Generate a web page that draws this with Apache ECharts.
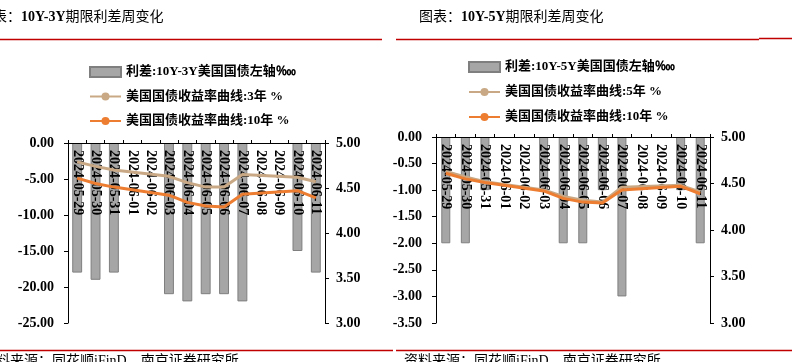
<!DOCTYPE html>
<html><head><meta charset="utf-8">
<script src="https://cdn.jsdelivr.net/npm/echarts@6/dist/echarts.min.js"></script>
<style>html,body{margin:0;padding:0;background:#fff}#c{width:792px;height:362px}</style>
</head><body><div id="c"></div>
<script>
const categories = ['2024-05-29','2024-05-30','2024-05-31','2024-06-01','2024-06-02','2024-06-03','2024-06-04','2024-06-05','2024-06-06','2024-06-07','2024-06-08','2024-06-09','2024-06-10','2024-06-11'];
// left chart (10Y-3Y)
const spread10y3y = [-18,-19,-18,null,null,-21,-22,-21,-21,-22,null,null,-15,-18];
const yield3y     = [4.79,4.74,4.70,null,null,4.63,4.56,4.51,4.51,4.65,null,null,4.62,4.57];
const yield10y    = [4.61,4.55,4.51,null,null,4.42,4.34,4.30,4.29,4.43,null,null,4.47,4.39];
// right chart (10Y-5Y)
const spread10y5y = [-2,-2,-1,null,null,-1,-2,-2,-1,-3,null,null,-1,-2];
const yield5y     = [4.63,4.57,4.52,null,null,4.43,4.36,4.32,4.30,4.46,null,null,4.48,4.41];
const leftTicks  = {min:-25, max:0, interval:5};
const rightTicks = {min:-3.5, max:0, interval:0.5};
const yieldTicks = {min:3, max:5, interval:0.5};

const names = {
  s3: '利差:10Y-3Y美国国债左轴‱',
  y3: '美国国债收益率曲线:3年 %',
  y10: '美国国债收益率曲线:10年 %',
  s5: '利差:10Y-5Y美国国债左轴‱',
  y5: '美国国债收益率曲线:5年 %'
};

const FONT = "'Liberation Serif','Noto Sans CJK SC',serif";
const RED = '#c00000';
const TAN = '#c9a985';
const ORANGE = '#ed7d31';

function xAx(g){
  return {gridIndex:g, type:'category', data:categories, position:'top', boundaryGap:true, z:3,
    axisLine:{onZero:false, lineStyle:{color:'#000', width:1}},
    axisTick:{show:true, inside:false, length:3, lineStyle:{color:'#000'}},
    axisLabel:{inside:true, rotate:90, margin:7, interval:0, fontSize:14, fontWeight:'bold', fontFamily:FONT, color:'#000'}
  };
}
function yAx(g, t, pos){
  return {gridIndex:g, type:'value', position:pos, min:t.min, max:t.max, interval:t.interval,
    axisLine:{show:true, onZero:false, lineStyle:{color:'#000', width:1}},
    axisTick:{show:true, length:4, lineStyle:{color:'#000'}},
    splitLine:{show:false},
    axisLabel:{formatter:v=>Number(v).toFixed(2), margin:pos==='left'?14:11, fontSize:14, fontWeight:'bold', fontFamily:FONT, color:'#000'}
  };
}
const barStyle = {color:'#a6a6a6', borderColor:'#7f7f7f', borderWidth:1};
function lineS(name, data, xi, yi, color, z){
  return {name, type:'line', data, xAxisIndex:xi, yAxisIndex:yi, connectNulls:true, showSymbol:false,
    symbol:'circle', symbolSize:8, lineStyle:{color, width:3}, itemStyle:{color}, z};
}
const legendText = {fontSize:13, fontWeight:'bold', fontFamily:FONT, color:'#000', lineHeight:14};

const option = {
  animation:false,
  backgroundColor:'#fff',
  grid:[
    {left:68, right:467, top:143, bottom:39},
    {left:436, right:82, top:137, bottom:39}
  ],
  xAxis:[xAx(0), xAx(1)],
  yAxis:[yAx(0,leftTicks,'left'), yAx(0,yieldTicks,'right'), yAx(1,rightTicks,'left'), yAx(1,yieldTicks,'right')],
  legend:[
    {orient:'vertical', left:84, top:60, itemWidth:31, itemHeight:10, itemGap:10.5, textStyle:legendText,
     data:[{name:names.s3, icon:'rect'}, names.y3, names.y10]},
    {orient:'vertical', left:463, top:55, itemWidth:31, itemHeight:10, itemGap:11, textStyle:legendText,
     data:[{name:names.s5, icon:'rect'}, names.y5, names.y10]}
  ],
  series:[
    {name:names.s3, type:'bar', data:spread10y3y, xAxisIndex:0, yAxisIndex:0, barWidth:'54%', itemStyle:barStyle, z:2},
    lineS(names.y3, yield3y, 0, 1, TAN, 5),
    lineS(names.y10, yield10y, 0, 1, ORANGE, 6),
    {name:names.s5, type:'bar', data:spread10y5y, xAxisIndex:1, yAxisIndex:2, barWidth:'46%', itemStyle:barStyle, z:2},
    lineS(names.y5, yield5y, 1, 3, TAN, 5),
    lineS(names.y10, yield10y, 1, 3, ORANGE, 6)
  ],
  graphic:[
    {type:'text', left:-21, top:10, style:{text:'图表：{b|10Y-3Y}期限利差周变化', font:"14px "+FONT, fill:'#000',
      rich:{b:{fontWeight:'bold', fontSize:14, fontFamily:FONT}}}},
    {type:'text', left:419, top:10, style:{text:'图表：{b|10Y-5Y}期限利差周变化', font:"14px "+FONT, fill:'#000',
      rich:{b:{fontWeight:'bold', fontSize:14, fontFamily:FONT}}}},
    {type:'line', shape:{x1:0, y1:39.5, x2:382, y2:39.5}, style:{stroke:RED, lineWidth:1.5}},
    {type:'line', shape:{x1:396, y1:39.5, x2:759, y2:39.5}, style:{stroke:RED, lineWidth:1.5}},
    {type:'line', shape:{x1:759, y1:38.5, x2:792, y2:38.5}, style:{stroke:RED, lineWidth:1.5}},
    {type:'line', shape:{x1:0, y1:350.5, x2:393, y2:350.5}, style:{stroke:RED, lineWidth:1.5}},
    {type:'line', shape:{x1:396, y1:350.5, x2:792, y2:350.5}, style:{stroke:RED, lineWidth:1.5}},
    {type:'text', left:-18, top:354, style:{text:'资料来源：同花顺iFinD，南京证券研究所', font:"14px "+FONT, fill:'#000'}},
    {type:'text', left:404, top:354, style:{text:'资料来源：同花顺iFinD，南京证券研究所', font:"14px "+FONT, fill:'#000'}}
  ]
};
const chart = echarts.init(document.getElementById('c'), null, {renderer:'canvas'});
chart.setOption(option);
</script></body></html>
